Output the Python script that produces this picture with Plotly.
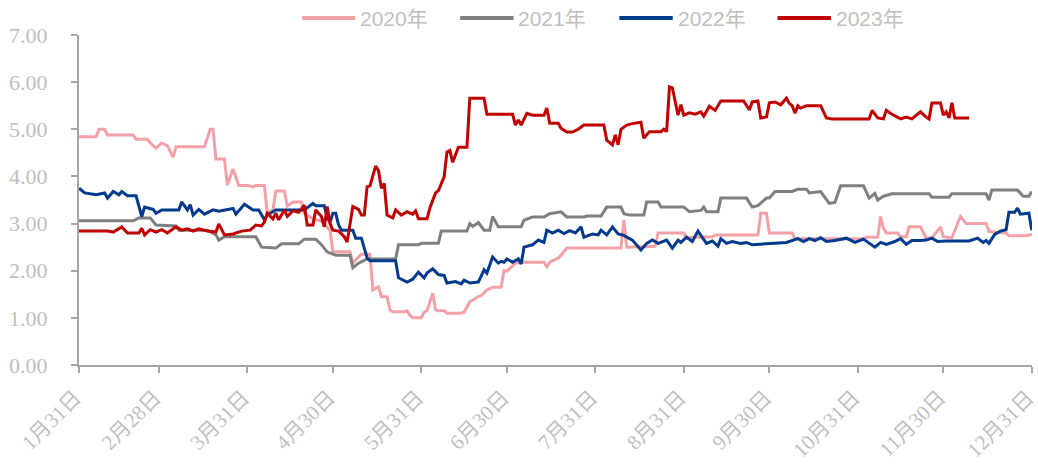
import plotly.graph_objects as go

YEAR = "2023-"

s2020 = [("01-31",4.84),("02-06",4.84),("02-07",5.00),("02-09",5.00),("02-10",4.88),("02-19",4.88),
 ("02-20",4.79),("02-24",4.79),("02-25",4.71),("02-27",4.60),("03-01",4.71),("03-03",4.65),("03-05",4.41),
 ("03-06",4.63),("03-16",4.63),("03-18",5.00),("03-19",5.00),("03-20",4.37),("03-23",4.37),("03-24",3.82),
 ("03-26",4.16),("03-28",3.81),("03-31",3.81),("04-02",3.78),("04-03",3.81),("04-06",3.81),("04-07",3.22),
 ("04-09",3.29),("04-10",3.69),("04-13",3.69),("04-14",3.37),("04-16",3.46),("04-19",3.46),("04-20",3.22),
 ("04-23",3.10),("04-26",3.05),("04-29",2.86),("04-30",2.40),("05-06",2.40),("05-07",2.16),("05-09",2.29),
 ("05-10",2.35),("05-13",2.35),("05-14",1.59),("05-16",1.66),("05-17",1.45),("05-19",1.45),("05-20",1.17),
 ("05-21",1.13),("05-25",1.13),("05-26",1.15),("05-27",1.06),("05-28",1.00),("05-31",1.00),("06-01",1.12),
 ("06-02",1.15),("06-04",1.52),("06-05",1.17),("06-06",1.15),("06-08",1.15),("06-09",1.10),("06-14",1.10),
 ("06-15",1.12),("06-17",1.34),("06-20",1.45),("06-21",1.47),("06-23",1.59),("06-25",1.65),("06-28",1.65),
 ("06-29",2.00),("06-30",1.99),("07-03",2.16),("07-05",2.18),("07-13",2.18),("07-14",2.08),("07-15",2.18),
 ("07-18",2.27),("07-19",2.33),("07-21",2.48),("08-09",2.48),("08-10",3.08),("08-11",2.50),("08-21",2.52),
 ("08-22",2.80),("08-31",2.80),("09-01",2.70),("09-10",2.72),("09-11",2.76),("09-26",2.76),("09-27",3.22),
 ("09-29",3.22),("09-30",2.80),("10-08",2.80),("10-09",2.68),("11-02",2.68),("11-03",2.71),("11-07",2.71),
 ("11-08",3.15),("11-09",2.90),("11-10",2.80),("11-14",2.80),("11-15",2.72),("11-17",2.72),("11-18",2.93),
 ("11-22",2.93),("11-24",2.69),("11-26",2.70),("11-29",2.93),("11-30",2.72),("12-03",2.70),("12-06",3.15),
 ("12-08",3.00),("12-15",3.00),("12-16",2.83),("12-22",2.80),("12-23",2.74),("12-29",2.74),("12-31",2.77)]

s2021 = [("01-31",3.06),("02-19",3.06),("02-21",3.12),("02-25",3.12),("02-27",2.97),("03-06",2.95),
 ("03-07",2.86),("03-17",2.86),("03-20",2.76),("03-21",2.65),("03-23",2.72),("04-03",2.72),("04-05",2.50),
 ("04-10",2.48),("04-12",2.57),("04-18",2.57),("04-20",2.67),("04-24",2.67),("04-26",2.55),("04-28",2.40),
 ("05-01",2.33),("05-06",2.33),("05-07",2.06),("05-09",2.16),("05-12",2.25),("05-22",2.25),("05-23",2.55),
 ("05-30",2.55),("05-31",2.58),("06-06",2.58),("06-07",2.84),("06-16",2.84),("06-17",3.00),("06-18",2.94),
 ("06-20",3.02),("06-22",2.86),("06-24",2.86),("06-25",3.15),("06-27",2.93),("07-05",2.93),("07-06",3.07),
 ("07-09",3.14),("07-13",3.14),("07-15",3.21),("07-19",3.25),("07-21",3.14),("07-27",3.14),("07-28",3.16),
 ("08-02",3.16),("08-04",3.35),("08-09",3.35),("08-10",3.21),("08-12",3.18),("08-17",3.18),("08-18",3.46),
 ("08-22",3.46),("08-23",3.35),("08-31",3.35),("09-02",3.25),("09-06",3.28),("09-07",3.35),("09-08",3.25),
 ("09-12",3.25),("09-13",3.54),("09-22",3.54),("09-24",3.35),("09-26",3.38),("09-29",3.54),("09-30",3.54),
 ("10-02",3.68),("10-08",3.68),("10-10",3.73),("10-13",3.73),("10-14",3.65),("10-18",3.68),("10-21",3.43),
 ("10-23",3.45),("10-25",3.80),("11-02",3.80),("11-04",3.54),("11-06",3.64),("11-07",3.50),("11-09",3.58),
 ("11-12",3.63),("11-25",3.63),("11-26",3.56),("12-02",3.56),("12-03",3.63),("12-15",3.63),("12-16",3.50),
 ("12-17",3.71),("12-26",3.71),("12-28",3.58),("12-30",3.58),("12-31",3.68)]

s2022 = [("01-31",3.75),("02-02",3.65),("02-06",3.61),("02-09",3.65),("02-10",3.54),("02-12",3.68),
 ("02-14",3.61),("02-15",3.68),("02-17",3.59),("02-20",3.59),("02-22",3.15),("02-23",3.35),("02-26",3.30),
 ("02-27",3.22),("03-01",3.29),("03-07",3.29),("03-08",3.46),("03-10",3.29),("03-11",3.40),("03-12",3.18),
 ("03-14",3.30),("03-16",3.20),("03-19",3.29),("03-21",3.26),("03-26",3.32),("03-27",3.20),("03-30",3.41),
 ("04-02",3.29),("04-04",3.29),("04-06",3.08),("04-07",3.18),("04-10",3.29),("04-20",3.29),("04-23",3.43),
 ("04-24",3.38),("04-27",3.38),("04-28",3.12),("04-29",3.03),("04-30",3.22),("05-01",3.22),("05-02",2.97),
 ("05-03",2.86),("05-07",2.86),("05-08",2.69),("05-10",2.69),("05-12",2.27),("05-13",2.21),("05-22",2.21),
 ("05-23",1.85),("05-26",1.76),("05-28",1.82),("05-30",1.97),("06-01",1.85),("06-02",1.95),("06-04",2.04),
 ("06-06",1.92),("06-08",1.90),("06-09",1.74),("06-12",1.77),("06-14",1.72),("06-15",1.80),("06-17",1.74),
 ("06-20",1.76),("06-21",1.91),("06-22",2.02),("06-23",1.95),("06-25",2.29),("06-27",2.16),("06-28",2.20),
 ("06-29",2.18),("06-30",2.25),("07-02",2.18),("07-04",2.25),("07-05",2.14),("07-06",2.50),("07-09",2.55),
 ("07-11",2.65),("07-13",2.60),("07-14",2.86),("07-16",2.80),("07-18",2.86),("07-20",2.79),("07-22",2.85),
 ("07-24",2.80),("07-26",2.93),("07-27",2.71),("07-30",2.78),("08-01",2.76),("08-02",2.86),("08-04",2.76),
 ("08-06",2.93),("08-08",2.78),("08-10",2.75),("08-13",2.65),("08-16",2.44),("08-18",2.58),("08-20",2.65),
 ("08-22",2.58),("08-25",2.65),("08-27",2.48),("08-29",2.65),("08-30",2.60),("09-01",2.71),("09-03",2.62),
 ("09-05",2.84),("09-06",2.75),("09-08",2.58),("09-10",2.63),("09-12",2.52),("09-13",2.68),("09-15",2.58),
 ("09-17",2.62),("09-20",2.58),("09-22",2.60),("09-24",2.55),("10-06",2.60),("10-08",2.64),("10-10",2.68),
 ("10-12",2.62),("10-14",2.68),("10-16",2.64),("10-18",2.70),("10-20",2.62),("10-23",2.64),("10-27",2.69),
 ("10-30",2.60),("11-02",2.67),("11-04",2.58),("11-06",2.50),("11-08",2.60),("11-10",2.56),("11-13",2.62),
 ("11-15",2.68),("11-17",2.56),("11-19",2.64),("11-22",2.64),("11-24",2.65),("11-26",2.69),("11-28",2.62),
 ("12-01",2.63),("12-09",2.63),("12-12",2.69),("12-14",2.60),("12-15",2.64),("12-16",2.58),("12-18",2.77),
 ("12-20",2.84),("12-22",2.87),("12-23",3.24),("12-25",3.24),("12-26",3.33),("12-27",3.20),("12-30",3.22),
 ("12-31",2.86)]

s2023 = [("01-31",2.84),("02-10",2.84),("02-12",2.82),("02-15",2.93),("02-17",2.80),("02-21",2.80),
 ("02-22",2.90),("02-23",2.76),("02-25",2.87),("02-27",2.82),("03-01",2.87),("03-03",2.80),("03-06",2.93),
 ("03-08",2.86),("03-10",2.89),("03-12",2.84),("03-14",2.89),("03-17",2.84),("03-20",2.82),("03-21",2.99),
 ("03-23",2.76),("03-26",2.78),("03-29",2.84),("04-01",2.86),("04-03",2.97),("04-05",2.95),("04-06",3.03),
 ("04-07",3.22),("04-09",3.10),("04-10",3.22),("04-11",3.08),("04-13",3.29),("04-14",3.15),("04-16",3.27),
 ("04-18",3.24),("04-20",3.39),("04-21",2.97),("04-23",2.97),("04-24",3.29),("04-26",3.15),("04-27",2.93),
 ("04-28",3.36),("04-29",3.00),("04-30",2.86),("05-02",2.84),("05-04",2.72),("05-05",2.61),("05-07",3.36),
 ("05-09",3.30),("05-10",3.18),("05-11",3.18),("05-12",3.78),("05-13",3.80),("05-15",4.22),("05-16",4.12),
 ("05-17",3.75),("05-18",3.85),("05-19",3.18),("05-21",3.12),("05-22",3.29),("05-24",3.18),("05-26",3.25),
 ("05-28",3.20),("05-29",3.27),("05-30",3.10),("06-02",3.10),("06-03",3.33),("06-05",3.65),("06-06",3.70),
 ("06-08",3.99),("06-09",4.52),("06-10",4.55),("06-11",4.30),("06-13",4.62),("06-16",4.62),("06-17",5.66),
 ("06-22",5.66),("06-23",5.32),("07-02",5.32),("07-03",5.09),("07-04",5.20),("07-05",5.09),("07-07",5.34),
 ("07-09",5.30),("07-13",5.30),("07-14",5.45),("07-15",5.13),("07-18",5.13),("07-19",5.02),("07-21",4.94),
 ("07-23",4.94),("07-25",5.00),("07-27",5.09),("08-03",5.09),("08-04",4.77),("08-06",4.67),("08-07",4.88),
 ("08-08",4.67),("08-09",5.00),("08-11",5.09),("08-13",5.12),("08-16",5.15),("08-17",4.81),("08-19",4.95),
 ("08-23",4.95),("08-24",5.00),("08-25",4.95),("08-26",5.90),("08-27",5.88),("08-29",5.30),("08-30",5.52),
 ("08-31",5.30),("09-02",5.35),("09-04",5.32),("09-06",5.37),("09-07",5.28),("09-09",5.49),("09-11",5.40),
 ("09-13",5.60),("09-21",5.60),("09-23",5.41),("09-24",5.58),("09-26",5.60),("09-27",5.24),("09-29",5.26),
 ("09-30",5.56),("10-02",5.58),("10-04",5.52),("10-06",5.66),("10-07",5.55),("10-08",5.50),("10-09",5.34),
 ("10-10",5.50),("10-11",5.45),("10-13",5.50),("10-18",5.50),("10-20",5.24),("10-22",5.22),("11-04",5.22),
 ("11-05",5.40),("11-07",5.24),("11-09",5.22),("11-10",5.40),("11-12",5.32),("11-15",5.22),("11-17",5.26),
 ("11-19",5.22),("11-22",5.37),("11-24",5.26),("11-25",5.22),("11-26",5.56),("11-29",5.56),("11-30",5.30),
 ("12-01",5.37),("12-02",5.24),("12-03",5.56),("12-04",5.24),("12-09",5.24)]

series_names = ["2020年", "2021年", "2022年", "2023年"]
series_data = [s2020, s2021, s2022, s2023]
series_colors = ["#F4A0A8", "#7F7F7F", "#003A8C", "#C00000"]

tick_dates = ["01-31", "02-28", "03-31", "04-30", "05-31", "06-30",
              "07-31", "08-31", "09-30", "10-31", "11-30", "12-31"]
tick_labels = ["1月31日", "2月28日", "3月31日", "4月30日", "5月31日", "6月30日",
               "7月31日", "8月31日", "9月30日", "10月31日", "11月30日", "12月31日"]

AXIS = "#A6A6A6"
TXT = "#BFBFBF"
SERIF = "Liberation Serif, Noto Sans CJK SC, serif"
SANS = "Liberation Sans, Noto Sans CJK SC, sans-serif"

fig = go.Figure()
for name, data, color in zip(series_names, series_data, series_colors):
    fig.add_trace(go.Scatter(
        x=[YEAR + d for d, _ in data], y=[v for _, v in data],
        mode="lines", name=name, showlegend=False,
        line=dict(color=color, width=3),
    ))

# manual legend (long line samples, as in the reference)
leg_x0 = [0.234, 0.400, 0.567, 0.733]
for i, (name, color) in enumerate(zip(series_names, series_colors)):
    x0 = leg_x0[i]
    fig.add_shape(type="line", xref="paper", yref="paper",
                  x0=x0, x1=x0 + 0.056, y0=1.0515, y1=1.0515,
                  line=dict(color=color, width=4))
    fig.add_annotation(xref="paper", yref="paper", x=x0 + 0.059, y=1.0515,
                       xanchor="left", yanchor="middle", showarrow=False,
                       text=name, font=dict(family=SANS, size=21, color=TXT))

fig.update_layout(
    width=1038, height=464,
    margin=dict(l=79, r=6, t=35, b=99),
    paper_bgcolor="white", plot_bgcolor="white",
)
fig.update_xaxes(
    type="date", range=[YEAR + "01-31", YEAR + "12-31 02:00"],
    tickvals=[YEAR + d for d in tick_dates], ticktext=tick_labels,
    tickangle=-45, showgrid=False, zeroline=False, automargin=False,
    showline=True, linecolor=AXIS, linewidth=2,
    ticks="outside", ticklen=6, tickwidth=2, tickcolor=AXIS,
    ticklabelstandoff=4, ticklabelshift=-4, ticklabeloverflow="allow",
    tickfont=dict(family=SERIF, size=21, color=TXT),
)
fig.update_yaxes(
    range=[0, 7], dtick=1, tickformat=".2f",
    showgrid=False, zeroline=False, automargin=False,
    showline=True, linecolor=AXIS, linewidth=2,
    ticks="outside", ticklen=6, tickwidth=2, tickcolor=AXIS,
    ticklabelstandoff=19,
    tickfont=dict(family=SERIF, size=22, color=TXT),
)

fig.write_html("out.html", config={"displayModeBar": False},
               post_script="document.body.style.margin='0';")
